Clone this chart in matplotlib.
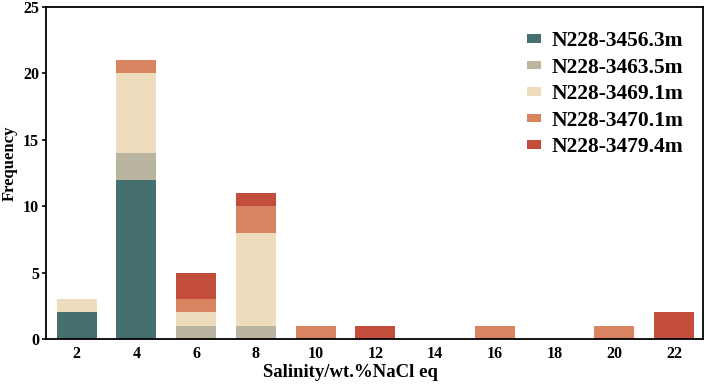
import matplotlib
matplotlib.use("Agg")
import matplotlib.pyplot as plt
import numpy as np

plt.rcParams['font.family'] = ['Liberation Serif', 'DejaVu Serif']
plt.rcParams['font.weight'] = 'bold'

bins = [2, 4, 6, 8, 10, 12, 14, 16, 18, 20, 22]
series_names = ["N228-3456.3m", "N228-3463.5m", "N228-3469.1m", "N228-3470.1m", "N228-3479.4m"]
s_3456 = [2, 12, 0, 0, 0, 0, 0, 0, 0, 0, 0]
s_3463 = [0, 2, 1, 1, 0, 0, 0, 0, 0, 0, 0]
s_3469 = [1, 6, 1, 7, 0, 0, 0, 0, 0, 0, 0]
s_3470 = [0, 1, 1, 2, 1, 0, 0, 1, 0, 1, 0]
s_3479 = [0, 0, 2, 1, 0, 1, 0, 0, 0, 0, 2]
colors = ["#46706F", "#BAB5A1", "#EEDCBC", "#D98461", "#C24D3A"]

fig = plt.figure(figsize=(7.06, 3.84), dpi=100)
ax = fig.add_axes([46/706, 1-339/384, (703-46)/706, (339-7)/384])

bottom = np.zeros(len(bins))
for name, vals, c in zip(series_names, [s_3456, s_3463, s_3469, s_3470, s_3479], colors):
    ax.bar(bins, vals, bottom=bottom, width=1.34, color=c, label=name)
    bottom += np.array(vals)

ax.set_xlim(0.97, 22.97)
ax.set_ylim(0, 25)
ax.set_xticks(bins)
ax.set_yticks([0, 5, 10, 15, 20, 25])
ax.tick_params(axis='x', length=0, labelsize=11.5, pad=5)
ax.tick_params(axis='y', length=3, width=1.2, labelsize=11.5, pad=2)
for lab in ax.get_xticklabels() + ax.get_yticklabels():
    lab.set_fontweight('bold')
for s in ax.spines.values():
    s.set_linewidth(1.3)
ax.set_xlabel("Salinity/wt.%NaCl eq", fontsize=13.5, fontweight='bold')
ax.xaxis.set_label_coords(0.463, -0.074)
ax.set_ylabel("Frequency", fontsize=12, fontweight='bold')
ax.yaxis.set_label_coords(-0.043, 0.53)

leg = ax.legend(loc='upper right', frameon=False, handlelength=0.67,
                handleheight=0.25, labelspacing=0.30, handletextpad=0.48,
                bbox_to_anchor=(1.0, 0.985), prop={'weight': 'bold', 'size': 15.5})

fig.savefig("out.png", dpi=100)
